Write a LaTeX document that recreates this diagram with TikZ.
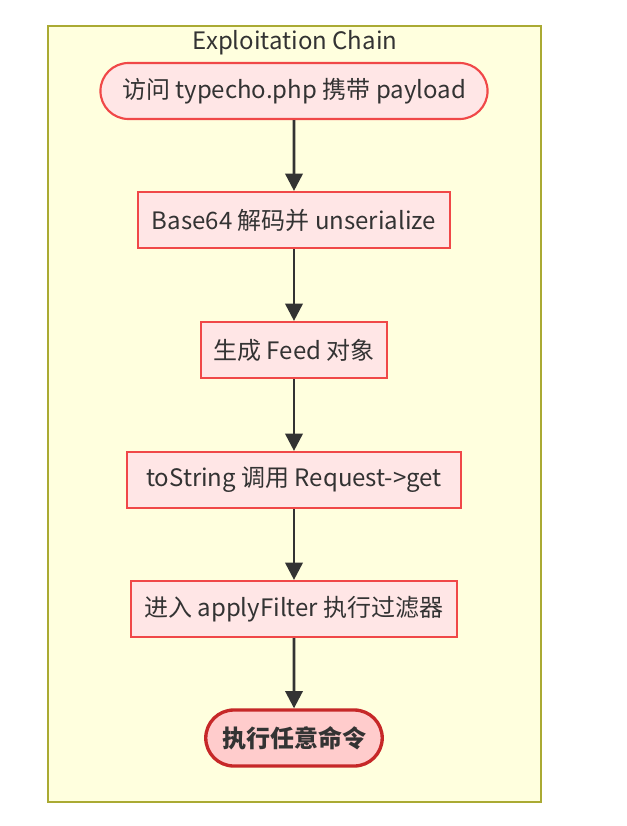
\documentclass[tikz,border=0pt]{standalone}
\usepackage{fontspec}
\setmainfont{Noto Sans CJK SC}
\usepackage{tikz}
\usetikzlibrary{arrows.meta, positioning, shapes.misc}
\usepackage{xcolor}
\definecolor{clusterfill}{HTML}{FFFFDE}
\definecolor{clusterline}{HTML}{AAAA33}
\definecolor{stepfill}{HTML}{FFE6E6}
\definecolor{stepline}{HTML}{F04848}
\definecolor{endfill}{HTML}{FFCCCC}
\definecolor{endline}{HTML}{C62828}
\definecolor{textgray}{HTML}{333333}
\tikzset{%
	stepbox/.style={
		rectangle,
		draw=stepline,
		fill=stepfill,
		line width=1.6pt,
		text=textgray,
		minimum height=42pt,
		font=\fontsize{18pt}{21pt}\selectfont
	},
	roundbox/.style={
		stepbox,
		rounded rectangle
	},
	endbox/.style={
		roundbox,
		draw=endline,
		fill=endfill,
		line width=2.5pt,
		font=\fontsize{18pt}{21pt}\selectfont\bfseries
	},
	flow/.style={
		-{Triangle[length=13pt,width=13pt]},
		line width=2pt,
		draw=textgray
	},
}
\begin{document}
\begin{tikzpicture}[x=0.75pt,y=-0.75pt]
		\useasboundingbox (0,0) rectangle (627,826);
		% Draw the cluster
		\draw[fill=clusterfill, draw=clusterline, line width=1pt] (48,26) rectangle (541,802);
		\node[text=textgray, font=\fontsize{18pt}{21pt}\selectfont] (title) at (295,43) {Exploitation Chain};
		
		% Draw the steps
		\node[roundbox, minimum width=297pt] (visit) at (294,91) {访问 typecho.php 携带 payload};
		\node[stepbox, minimum width=234pt] (decode) at (294,220) {Base64 解码并 unserialize};
		\node[stepbox, minimum width=140pt] (feed) at (294,350) {生成 Feed 对象};
		\node[stepbox, minimum width=250pt] (tostring) at (294,480) {toString 调用 Request->get};
		\node[stepbox, minimum width=244pt] (filter) at (294,609) {进入 applyFilter 执行过滤器};
		\node[endbox, minimum width=139pt] (exec) at (294,738) {执行任意命令};
		
		% Draw the arrows
		\draw[flow] (visit) -- (decode);
		\draw[flow] (decode) -- (feed);
		\draw[flow] (feed) -- (tostring);
		\draw[flow] (tostring) -- (filter);
		\draw[flow] (filter) -- (exec);
	\end{tikzpicture}
\end{document}
